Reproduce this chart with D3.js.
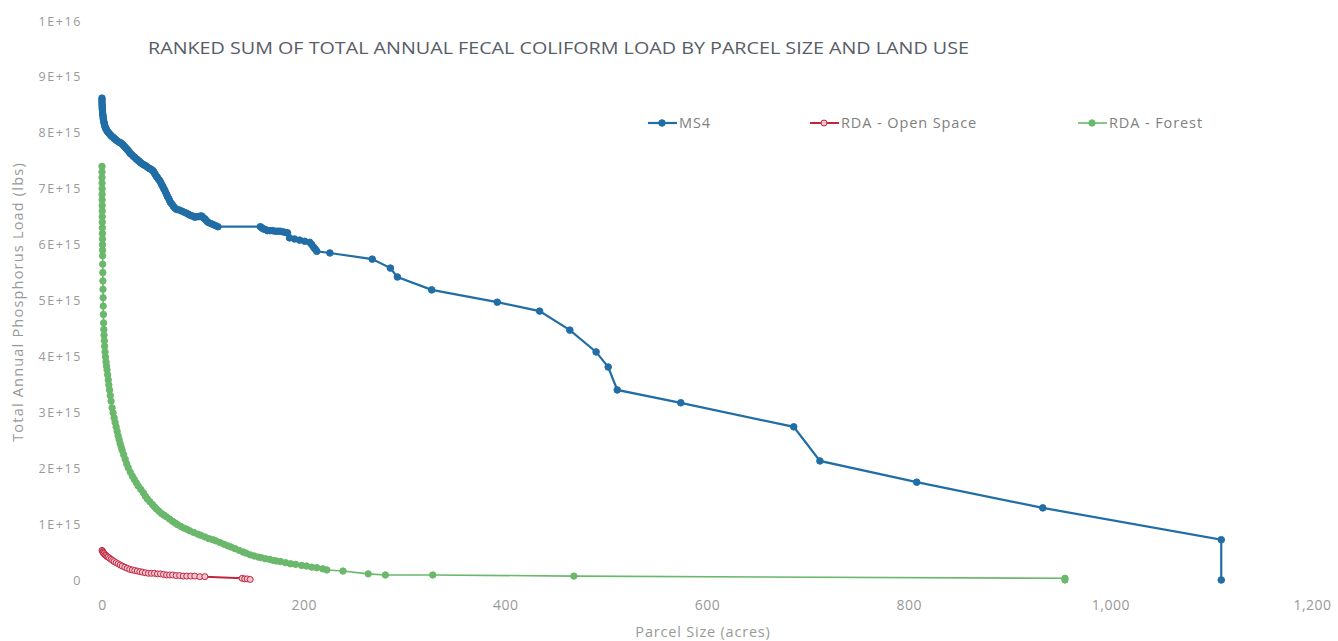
<!DOCTYPE html>
<html>
<head>
<meta charset="utf-8">
<script src="https://cdn.jsdelivr.net/npm/d3@7"></script>
<style>
  body { margin: 0; background: #fff; }
  svg text { font-family: "Open Sans", "Noto Sans", sans-serif; }
</style>
</head>
<body>
<div id="chart"></div>
<script>
// values (acres, load in units of 1E+15)
var ms4X = [0, 0, 0, 0.1, 0.2, 0.3, 0.4, 0.6, 0.8, 1, 1.2, 1.5, 1.8, 2.2, 2.5, 3, 3.5, 4, 4.5, 5.2, 6, 7, 8, 9, 10, 11, 12, 13, 14, 15.5, 17, 18.5, 20, 21, 22, 23, 24, 25, 26, 27, 28, 29.5, 31, 32.5, 34, 35, 36, 37, 38, 39.5, 41, 42.5, 44, 45.5, 47, 48.5, 50, 51, 52, 53, 54, 55, 56, 57, 58, 59, 60, 61, 62, 63, 64, 65, 66, 67, 68, 69.5, 71, 72.5, 74, 76.5, 79, 81.5, 84, 86, 88, 90, 92, 94, 96, 97.5, 99, 100.5, 102, 103.5, 105, 107.5, 110, 112.5, 115, 157, 158.5, 160, 162, 164, 166.5, 169, 171.5, 174, 176.5, 179, 181.5, 184, 186, 191, 196, 201, 206, 208, 210, 211.5, 213, 226, 268, 286, 293, 327, 392, 434, 464, 490, 502, 511, 574, 686, 712, 808, 933, 1110, 1110];
var ms4Y = [8.62, 8.58, 8.54, 8.5, 8.47, 8.44, 8.41, 8.37, 8.33, 8.3, 8.26, 8.23, 8.2, 8.17, 8.14, 8.11, 8.09, 8.07, 8.05, 8.03, 8.01, 7.99, 7.97, 7.95, 7.93, 7.92, 7.9, 7.89, 7.87, 7.85, 7.83, 7.82, 7.8, 7.78, 7.76, 7.74, 7.72, 7.7, 7.68, 7.66, 7.63, 7.61, 7.58, 7.56, 7.53, 7.52, 7.5, 7.49, 7.47, 7.45, 7.43, 7.42, 7.4, 7.38, 7.36, 7.35, 7.33, 7.31, 7.28, 7.25, 7.22, 7.2, 7.17, 7.15, 7.12, 7.08, 7.05, 7.01, 6.98, 6.94, 6.9, 6.86, 6.83, 6.79, 6.75, 6.72, 6.68, 6.65, 6.63, 6.62, 6.6, 6.58, 6.56, 6.54, 6.52, 6.51, 6.49, 6.5, 6.5, 6.51, 6.51, 6.48, 6.46, 6.43, 6.4, 6.38, 6.36, 6.34, 6.32, 6.32, 6.3, 6.28, 6.27, 6.25, 6.25, 6.25, 6.24, 6.24, 6.24, 6.23, 6.22, 6.21, 6.12, 6.1, 6.08, 6.06, 6.04, 6.0, 5.95, 5.92, 5.88, 5.85, 5.74, 5.58, 5.42, 5.19, 4.97, 4.81, 4.47, 4.08, 3.81, 3.4, 3.17, 2.74, 2.13, 1.75, 1.29, 0.72, 0];

var openX = [0, 0.5, 1, 1.5, 2, 3, 4, 5, 6, 7.5, 9, 10.5, 12, 14, 16, 18, 20, 22.5, 25, 27.5, 30, 32.5, 35, 37.5, 40, 43, 46, 49, 52, 55, 58, 61, 64, 67, 70, 73.5, 77, 80.5, 84, 88, 92, 97, 102, 139, 141.5, 144, 147];
var openY = [0.53, 0.51, 0.5, 0.48, 0.47, 0.45, 0.44, 0.42, 0.41, 0.39, 0.37, 0.35, 0.33, 0.31, 0.29, 0.27, 0.25, 0.23, 0.21, 0.19, 0.18, 0.17, 0.16, 0.15, 0.14, 0.13, 0.12, 0.12, 0.12, 0.11, 0.11, 0.1, 0.09, 0.09, 0.09, 0.08, 0.08, 0.07, 0.07, 0.07, 0.07, 0.06, 0.06, 0.03, 0.02, 0.02, 0.01];

var forestX = [0, 0, 0, 0.05, 0.1, 0.1, 0.15, 0.2, 0.2, 0.25, 0.3, 0.35, 0.4, 0.45, 0.5, 0.55, 0.6, 0.7, 0.8, 0.9, 1, 1.1, 1.2, 1.4, 1.6, 1.8, 2, 2.3, 2.6, 3, 3.5, 4, 4.5, 5, 5.6, 6.2, 6.8, 7.5, 8.2, 9, 10, 11, 12, 13, 14, 15, 16, 17, 18, 19, 20, 21.5, 23, 24.5, 26, 28, 30, 32, 34, 36, 38.5, 41, 43, 45, 47.5, 50, 52, 54, 56.5, 59, 61.5, 64, 67, 70, 72.5, 75, 78, 81, 84, 87, 91, 95, 98, 102, 106, 110, 113, 117, 121, 125, 128, 132, 136, 140, 143, 147, 151, 155, 158, 162, 166, 170, 173, 177, 182, 187, 192, 198, 203, 208, 213, 219, 223, 239, 264, 281, 328, 468, 955, 955];
var forestY = [7.4, 7.3, 7.2, 7.1, 7.0, 6.9, 6.8, 6.7, 6.6, 6.5, 6.4, 6.3, 6.2, 6.1, 6.0, 5.9, 5.8, 5.65, 5.5, 5.35, 5.2, 5.05, 4.9, 4.75, 4.6, 4.48, 4.38, 4.28, 4.18, 4.08, 3.99, 3.9, 3.83, 3.76, 3.67, 3.58, 3.49, 3.4, 3.3, 3.2, 3.08, 2.99, 2.9, 2.82, 2.74, 2.66, 2.58, 2.51, 2.44, 2.38, 2.32, 2.24, 2.16, 2.08, 2.01, 1.93, 1.86, 1.8, 1.74, 1.68, 1.62, 1.56, 1.5, 1.45, 1.4, 1.35, 1.31, 1.27, 1.23, 1.19, 1.16, 1.13, 1.09, 1.05, 1.02, 0.99, 0.96, 0.93, 0.91, 0.88, 0.85, 0.82, 0.8, 0.77, 0.74, 0.72, 0.7, 0.67, 0.64, 0.61, 0.59, 0.56, 0.53, 0.5, 0.48, 0.45, 0.43, 0.41, 0.4, 0.38, 0.37, 0.35, 0.34, 0.33, 0.31, 0.29, 0.28, 0.26, 0.25, 0.23, 0.22, 0.2, 0.18, 0.16, 0.11, 0.09, 0.09, 0.07, 0.03, 0.0];

var seriesNames = ['MS4', 'RDA - Open Space', 'RDA - Forest'];
var xTicks = [0, 200, 400, 600, 800, 1000, 1200];
var yTicks = [0, 1, 2, 3, 4, 5, 6, 7, 8, 9, 10];

var WIDTH = 1338, HEIGHT = 641;

var seriesStyle = [
  { c: '#216ea6', fill: '#216ea6', r: 3.3, w: 2.2 },
  { c: '#c0263f', fill: '#f3c6cf', r: 3.0, w: 2.0 },
  { c: '#6ab86b', fill: '#6ab86b', r: 3.2, w: 1.6 }
];

var zipSeries = function(xs, ys) {
  var pts = [];
  for (var i = 0; i < xs.length; i++) {
    pts.push({ x: xs[i], y: ys[i] });
  }
  return pts;
};

var fmtY = function(v) {
  if (v == 0) return '0';
  if (v == 10) return '1E+16';
  return v + 'E+15';
};

var svg = d3.select('#chart').append('svg')
  .attr('width', WIDTH)
  .attr('height', HEIGHT);

var x = d3.scaleLinear().domain([0, 1200]).range([102, 1312]);
var y = d3.scaleLinear().domain([0, 10]).range([580, 21]);

// axes without lines, only labels
var xAxis = svg.append('g')
  .attr('transform', 'translate(0,580)')
  .call(d3.axisBottom(x).tickValues(xTicks).tickFormat(d3.format(',')).tickSize(0).tickPadding(20));
xAxis.select('.domain').remove();
xAxis.selectAll('text')
  .attr('fill', '#999')
  .style('font-size', '14px')
  .style('letter-spacing', '0.5px');

var yAxis = svg.append('g')
  .attr('transform', 'translate(82,0)')
  .call(d3.axisLeft(y).tickValues(yTicks).tickFormat(fmtY).tickSize(0).tickPadding(0));
yAxis.select('.domain').remove();
yAxis.selectAll('text')
  .attr('fill', '#999')
  .style('font-size', '12.5px')
  .style('letter-spacing', '1.6px');

// titles
svg.append('text')
  .attr('x', 148).attr('y', 54)
  .attr('fill', '#585d68')
  .attr('textLength', 821)
  .attr('lengthAdjust', 'spacingAndGlyphs')
  .style('font-size', '17px')
  .text('RANKED SUM OF TOTAL ANNUAL FECAL COLIFORM LOAD BY PARCEL SIZE AND LAND USE');

svg.append('text')
  .attr('x', 703).attr('y', 637)
  .attr('text-anchor', 'middle')
  .attr('fill', '#999')
  .style('font-size', '14.5px')
  .style('letter-spacing', '0.8px')
  .text('Parcel Size (acres)');

svg.append('text')
  .attr('transform', 'translate(23,302) rotate(-90)')
  .attr('text-anchor', 'middle')
  .attr('fill', '#999')
  .style('font-size', '14.5px')
  .style('letter-spacing', '1.2px')
  .text('Total Annual Phosphorus Load (lbs)');

var line = d3.line()
  .x(function(d) { return x(d.x); })
  .y(function(d) { return y(d.y); });

var allSeries = [
  zipSeries(ms4X, ms4Y),
  zipSeries(openX, openY),
  zipSeries(forestX, forestY)
];

// forest first, MS4 last on top
var drawOrder = [2, 1, 0];
drawOrder.forEach(function(k) {
  var st = seriesStyle[k];
  var g = svg.append('g').attr('class', 'series-' + k);
  g.append('path')
    .datum(allSeries[k])
    .attr('d', line)
    .attr('fill', 'none')
    .attr('stroke', st.c)
    .attr('stroke-width', st.w);
  g.selectAll('circle')
    .data(allSeries[k])
    .enter()
    .append('circle')
    .attr('cx', function(d) { return x(d.x); })
    .attr('cy', function(d) { return y(d.y); })
    .attr('r', st.r)
    .attr('fill', st.fill)
    .attr('stroke', st.c)
    .attr('stroke-width', 1);
});

// legend
var legendX = [648, 810, 1078];
var legend = svg.append('g');
seriesNames.forEach(function(name, k) {
  var st = seriesStyle[k];
  var lg = legend.append('g').attr('transform', 'translate(' + legendX[k] + ',123)');
  lg.append('line')
    .attr('x1', 0).attr('x2', 29)
    .attr('stroke', st.c).attr('stroke-width', st.w);
  lg.append('circle')
    .attr('cx', 14).attr('r', st.r)
    .attr('fill', st.fill).attr('stroke', st.c).attr('stroke-width', 1);
  lg.append('text')
    .attr('x', 31).attr('y', 5)
    .attr('fill', '#808080')
    .style('font-size', '14.5px')
    .style('letter-spacing', '0.9px')
    .text(name);
});
</script>
</body>
</html>
